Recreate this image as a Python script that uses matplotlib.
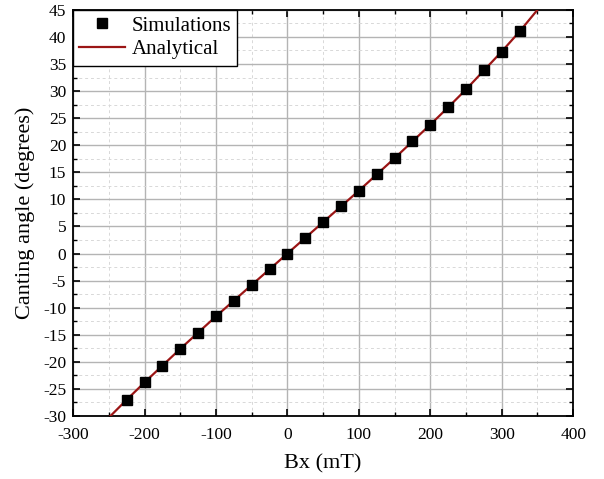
import matplotlib.pyplot as plt
from matplotlib.ticker import MultipleLocator

plt.rcParams['font.family'] = ['Liberation Serif', 'DejaVu Serif']
plt.rcParams['axes.unicode_minus'] = False

# simulated points
bx_sim = [-225, -200, -175, -150, -125, -100, -75, -50, -25, 0,
          25, 50, 75, 100, 125, 150, 175, 200, 225, 250, 275, 300, 325]
angle_sim = [-27.0, -23.8, -20.7, -17.6, -14.6, -11.6, -8.7, -5.8, -2.9, 0.0,
             2.9, 5.8, 8.7, 11.6, 14.6, 17.6, 20.7, 23.8, 27.0, 30.3, 33.8, 37.3, 41.0]

# analytical curve, read at the same spacing
bx_an = [-260, -250, -225, -200, -175, -150, -125, -100, -75, -50, -25, 0,
         25, 50, 75, 100, 125, 150, 175, 200, 225, 250, 275, 300, 325, 350, 360]
angle_an = [-31.7, -30.3, -27.0, -23.8, -20.7, -17.6, -14.6, -11.6, -8.7, -5.8, -2.9, 0.0,
            2.9, 5.8, 8.7, 11.6, 14.6, 17.6, 20.7, 23.8, 27.0, 30.3, 33.8, 37.3, 41.0, 45.0, 46.7]

fig = plt.figure(figsize=(6.04, 4.79), dpi=100)
ax = fig.add_axes([0.121, 0.1315, 0.828, 0.848])

ax.plot(bx_an, angle_an, color='#9b1515', lw=1.6, label='Analytical', zorder=3)
ax.plot(bx_sim, angle_sim, 's', color='black', ms=6.5, label='Simulations', zorder=4)

ax.set_xlim(-300, 400)
ax.set_ylim(-30, 45)
ax.xaxis.set_major_locator(MultipleLocator(100))
ax.xaxis.set_minor_locator(MultipleLocator(50))
ax.yaxis.set_major_locator(MultipleLocator(5))
ax.yaxis.set_minor_locator(MultipleLocator(2.5))

ax.grid(which='major', color='#b4b4b4', lw=1.0, ls='-')
ax.grid(which='minor', color='#d8d8d8', lw=0.7, ls=(0, (3, 3)))
ax.set_axisbelow(True)

ax.tick_params(which='both', direction='in', top=True, right=True, labelsize=12.5)
ax.tick_params(which='major', length=5, width=1.2)
ax.tick_params(which='minor', length=3, width=1.0)
ax.tick_params(axis='x', which='major', pad=8)
ax.tick_params(axis='y', which='major', pad=5)
for s in ax.spines.values():
    s.set_linewidth(1.3)

ax.set_xlabel('Bx (mT)', fontsize=16, labelpad=8)
ax.set_ylabel('Canting angle (degrees)', fontsize=16, labelpad=6)

h, l = ax.get_legend_handles_labels()
leg = ax.legend(h[::-1], l[::-1], loc='upper left', fontsize=15, frameon=True,
                fancybox=False, borderaxespad=0, handlelength=2.2,
                borderpad=0.3, labelspacing=0.2, handletextpad=0.3)
leg.get_frame().set_edgecolor('black')
leg.get_frame().set_linewidth(1.0)
leg.get_frame().set_alpha(1)

fig.savefig('out.png', dpi=100)
